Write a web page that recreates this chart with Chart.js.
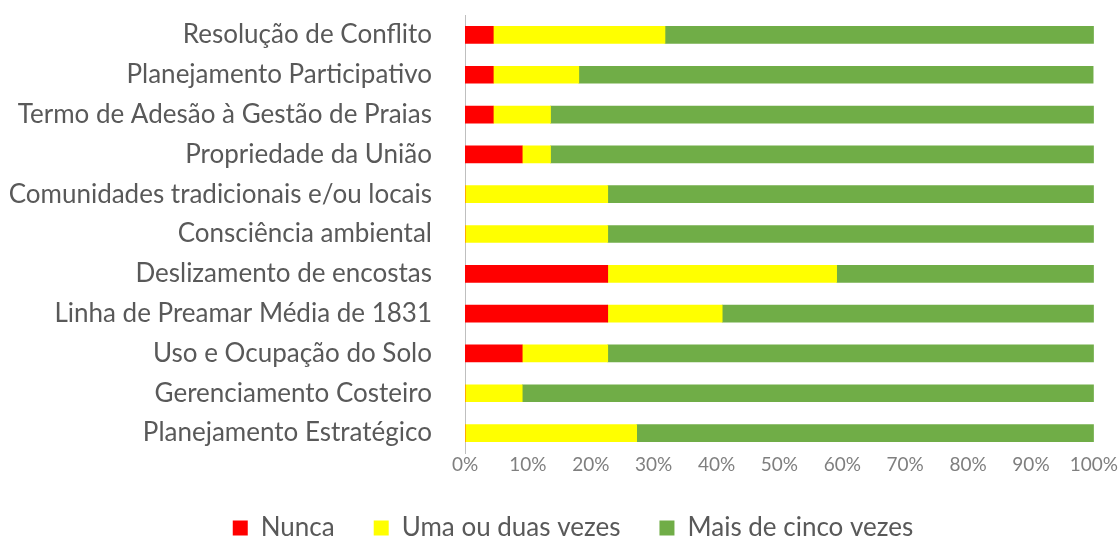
<!DOCTYPE html>
<html><head><meta charset="utf-8">
<script src="https://cdn.jsdelivr.net/npm/chart.js@4/dist/chart.umd.min.js"></script>
<style>html,body{margin:0;padding:0;background:#fff}#wrap{width:1120px;height:544px}</style>
</head><body><div id="wrap"><canvas id="c" width="1120" height="544"></canvas></div>
<script>
const categories = ["Resolução de Conflito","Planejamento Participativo","Termo de Adesão à Gestão de Praias","Propriedade da União","Comunidades tradicionais e/ou locais","Consciência ambiental","Deslizamento de encostas","Linha de Preamar Média de 1831","Uso e Ocupação do Solo","Gerenciamento Costeiro","Planejamento Estratégico"];
const nunca = [4.5, 4.5, 4.5, 9.1, 0, 0, 22.7, 22.7, 9.1, 0, 0];
const umaOuDuas = [27.3, 13.6, 9.1, 4.5, 22.7, 22.7, 36.4, 18.2, 13.6, 9.1, 27.3];
const maisDeCinco = [68.2, 81.8, 86.4, 86.4, 77.3, 77.3, 40.9, 59.1, 77.3, 90.9, 72.7];
const seriesNames = ["Nunca","Uma ou duas vezes","Mais de cinco vezes"];
const FONT = "Lato, 'Open Sans', sans-serif";
const shiftLegend = {
  id: 'shiftLegend',
  afterLayout(chart) {
    if (chart.legend) { chart.legend.left += 8; chart.legend.right += 8; }
  }
};
new Chart(document.getElementById('c'), {
  type: 'bar',
  data: {
    labels: categories,
    datasets: [
      {label: seriesNames[0], data: nunca, backgroundColor: '#FF0000'},
      {label: seriesNames[1], data: umaOuDuas, backgroundColor: '#FFFF00'},
      {label: seriesNames[2], data: maisDeCinco, backgroundColor: '#70AD47'}
    ]
  },
  plugins: [shiftLegend],
  options: {
    indexAxis: 'y',
    responsive: false,
    animation: false,
    layout: {padding: {left: 10, right: 0, top: 0, bottom: -7}},
    datasets: {bar: {barThickness: 17}},
    scales: {
      x: {
        stacked: true, min: 0, max: 100,
        ticks: {stepSize: 10, callback: v => v + '%', color: '#7F7F7F', font: {family: FONT, size: 19, lineHeight: 1}, padding: 2},
        grid: {display: false, drawTicks: false},
        border: {display: false}
      },
      y: {
        stacked: true,
        afterFit: s => { s.width = 455; s.paddingTop = 15; s.paddingBottom = 15; },
        ticks: {color: '#595959', font: {family: FONT, size: 26}, padding: 25},
        grid: {display: false},
        border: {display: true, color: '#BFBFBF'}
      }
    },
    plugins: {
      legend: {
        position: 'bottom',
        labels: {boxWidth: 15, boxHeight: 15, color: '#595959', font: {family: FONT, size: 26, lineHeight: 1}, padding: 39}
      },
      tooltip: {enabled: false}
    }
  }
});
</script></body></html>
